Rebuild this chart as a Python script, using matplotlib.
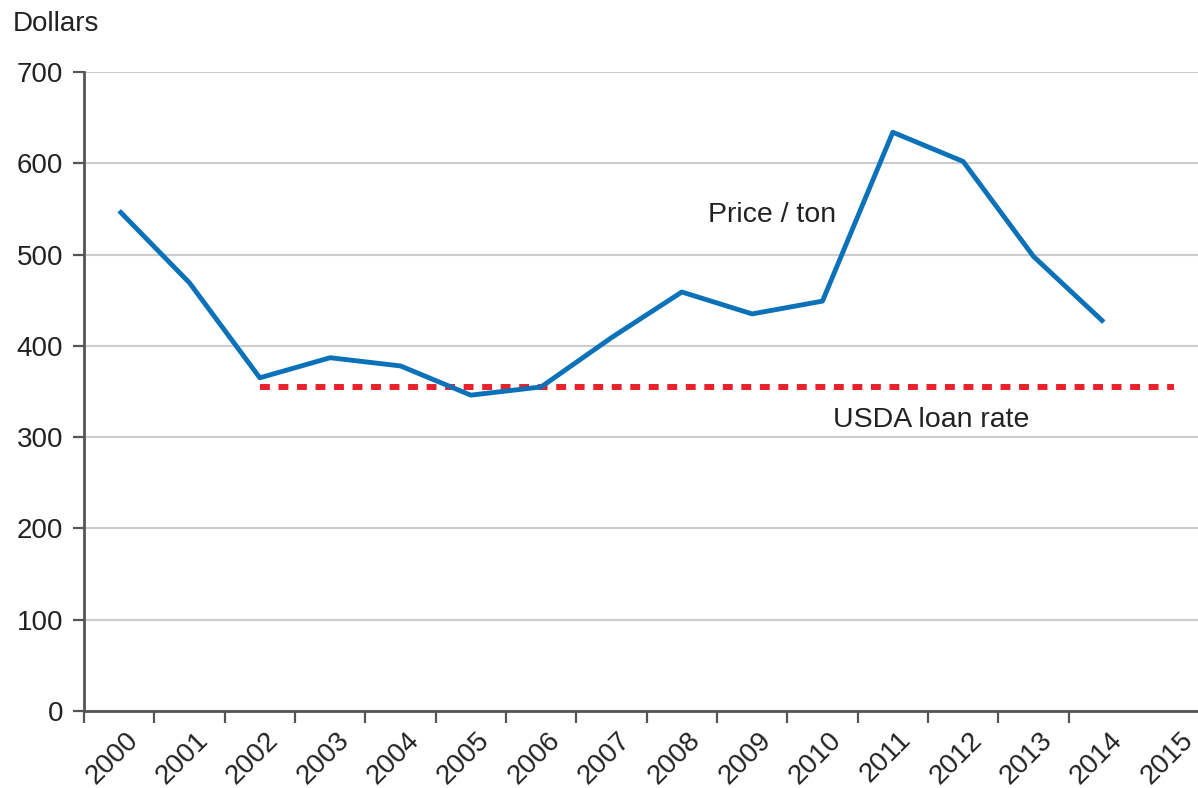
import matplotlib
matplotlib.use("Agg")
import matplotlib.pyplot as plt
import matplotlib.transforms as mtransforms
import numpy as np

plt.rcParams['font.family'] = ['Liberation Sans', 'DejaVu Sans']

years = ["2000", "2001", "2002", "2003", "2004", "2005", "2006", "2007",
         "2008", "2009", "2010", "2011", "2012", "2013", "2014", "2015"]
price_years = years[:15]
price = [548, 469, 365, 387, 378, 346, 355, 409, 459, 435, 449, 634, 602, 498, 426]
loan_years = years[2:]
loan_rate = [355] * len(loan_years)
yticks = [0, 100, 200, 300, 400, 500, 600, 700]

W, H = 1198, 788
PT = 0.72  # points per pixel at dpi 100
fig = plt.figure(figsize=(W / 100, H / 100), dpi=100)
ax = fig.add_axes([84 / W, 1 - 711 / H, 1 - 84 / W, (711 - 72) / H])

idx = {y: i for i, y in enumerate(years)}
px = [idx[y] for y in price_years]
lx = [idx[y] for y in loan_years]

ax.plot(px, price, color='#0b72b9', lw=3.5, solid_joinstyle='round',
        solid_capstyle='butt', zorder=3)
ax.plot(lx, loan_rate, color='#e8212b', lw=4.3, dashes=(1.65, 1.45),
        dash_capstyle='butt', zorder=2)

ax.set_ylim(0, 700)
ax.set_xlim(-0.5, -0.5 + (W - 84) / 70.33)
ax.set_yticks(yticks)
ax.set_yticklabels([str(v) for v in yticks], fontsize=20, color='#222222')
ax.yaxis.grid(True, color='#cccccc', lw=1.5)
ax.set_axisbelow(True)

# tick marks at category boundaries, labels at category centres
ax.set_xticks(np.arange(len(years) - 1) - 0.5)
ax.set_xticks(np.arange(len(years)), minor=True)
ax.set_xticklabels([])
ax.set_xticklabels(years, minor=True, rotation=45, ha='center', va='top',
                   fontsize=20, color='#222222')
ax.tick_params(axis='x', which='major', length=12 * PT, width=1.6,
               color='#555555', direction='out')
ax.tick_params(axis='x', which='minor', length=0, pad=16 * PT)
ax.tick_params(axis='y', length=11 * PT, width=1.6, color='#555555', pad=10 * PT)
offset = mtransforms.ScaledTranslation(-7 / 100, 0, fig.dpi_scale_trans)
for lab in ax.get_xticklabels(minor=True):
    lab.set_transform(lab.get_transform() + offset)

for s in ['top', 'right']:
    ax.spines[s].set_visible(False)
for s in ['left', 'bottom']:
    ax.spines[s].set_color('#555555')
    ax.spines[s].set_linewidth(2)

fig.text(13 / W, 1 - 31 / H, "Dollars", fontsize=20, color='#222222', va='baseline')
fig.text(708 / W, 1 - 222 / H, "Price / ton", fontsize=20.5, color='#222222', va='baseline')
fig.text(833 / W, 1 - 427 / H, "USDA loan rate", fontsize=20.5, color='#222222', va='baseline')

fig.savefig("out.png", dpi=100)
